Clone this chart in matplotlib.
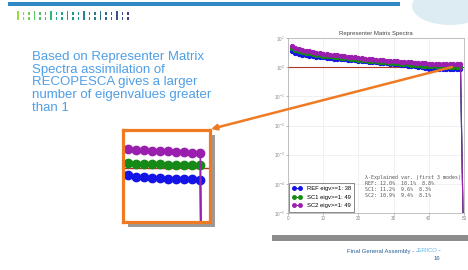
#!/usr/bin/env python3
"""Slide with representer matrix spectra (eigenvalues per experiment)."""

import matplotlib
matplotlib.use("Agg")
import matplotlib.pyplot as plt
from matplotlib.patches import Rectangle, Ellipse
import numpy as np

# eigenvalue index
modes = list(range(1, 51))

ref_eig = [3.6, 3.1, 2.85, 2.68, 2.55, 2.45, 2.36, 2.28, 2.21, 2.15,
           2.09, 2.03, 1.98, 1.93, 1.88, 1.84, 1.79, 1.75, 1.71, 1.67,
           1.63, 1.59, 1.55, 1.51, 1.47, 1.43, 1.39, 1.36, 1.33, 1.29,
           1.26, 1.22, 1.18, 1.14, 1.1, 1.07, 1.03, 1.0, 0.95, 0.9,
           0.88, 0.87, 0.865, 0.86, 0.855, 0.85, 0.85, 0.845, 0.84, 1e-7]
sc1_eig = [4.6, 3.9, 3.55, 3.3, 3.1, 2.95, 2.82, 2.7, 2.6, 2.5,
           2.41, 2.33, 2.25, 2.18, 2.11, 2.05, 1.99, 1.93, 1.88, 1.83,
           1.78, 1.73, 1.68, 1.64, 1.6, 1.56, 1.52, 1.48, 1.44, 1.41,
           1.37, 1.33, 1.3, 1.26, 1.23, 1.2, 1.16, 1.13, 1.1, 1.08,
           1.07, 1.065, 1.06, 1.055, 1.05, 1.05, 1.045, 1.04, 1.04, 1e-7]
sc2_eig = [5.4, 4.6, 4.2, 3.9, 3.65, 3.45, 3.3, 3.15, 3.02, 2.9,
           2.8, 2.7, 2.61, 2.52, 2.44, 2.36, 2.29, 2.22, 2.15, 2.09,
           2.03, 1.97, 1.92, 1.87, 1.82, 1.77, 1.73, 1.68, 1.64, 1.6,
           1.57, 1.54, 1.51, 1.48, 1.45, 1.42, 1.39, 1.37, 1.35, 1.33,
           1.31, 1.3, 1.29, 1.28, 1.28, 1.27, 1.27, 1.26, 1.26, 1e-7]

series_names = ["REF", "SC1", "SC2"]
series_colors = ["#1414e6", "#168a16", "#9a1fae"]

stats_lines = [
    "λ-Explained var. (first 3 modes)",
    "REF: 12.0%  10.1%  8.8%",
    "SC1: 11.2%  9.6%  8.3%",
    "SC2: 10.9%  9.4%  8.1%",
]

slide_text = ("Based on Representer Matrix\nSpectra assimilation of\n"
              "RECOPESCA gives a larger\nnumber of eigenvalues greater\nthan 1")

W, H = 468, 270
plt.rcParams["font.family"] = ["Liberation Sans", "DejaVu Sans"]
fig = plt.figure(figsize=(W / 100, H / 100), dpi=100)
fig.patch.set_facecolor("white")


def rect(x0, y0, x1, y1):
    return [x0 / W, 1 - y1 / H, (x1 - x0) / W, (y1 - y0) / H]


# background layer in pixel coordinates
bg = fig.add_axes([0, 0, 1, 1], zorder=0)
bg.set_xlim(0, W)
bg.set_ylim(H, 0)
bg.axis("off")
bg.add_patch(Ellipse((450, 6), 76, 38, color="#dcecf2", lw=0))
bg.add_patch(Rectangle((8, 2), 392, 4, color="#2f87c4", lw=0))
tick_cols = plt.cm.viridis_r(np.linspace(0.15, 0.8, 21))
for i, c in enumerate(tick_cols):
    xx = 17 + i * 5.5
    if i % 3 == 0:
        bg.add_patch(Rectangle((xx, 11), 1.7, 9, color=c, lw=0))
    else:
        bg.add_patch(Rectangle((xx, 12), 1.7, 3, color=c, lw=0))
        bg.add_patch(Rectangle((xx, 17), 1.7, 3, color=c, lw=0))
bg.add_patch(Rectangle((128, 135), 87, 92, color="#9a9a9a", lw=0))
bg.add_patch(Rectangle((272, 235), 196, 6, color="#8c8c8c", lw=0))
bg.text(32, 51, slide_text, fontsize=9.5, color="#4f9fe6", va="top",
        ha="left", linespacing=1.08)

# footer
fig.canvas.draw()
r = fig.canvas.get_renderer()
t3 = bg.text(441, 251, " -", fontsize=4.3, color="#2a5f95", ha="right", va="center")
x_end = bg.transData.inverted().transform(t3.get_window_extent(r))[0][0]
t2 = bg.text(x_end, 251, "JERICO", fontsize=4.3, color="#5fb4e6", ha="right", va="center")
x_end = bg.transData.inverted().transform(t2.get_window_extent(r))[0][0]
bg.text(x_end, 251, "Final General Assembly - ", fontsize=4.3, color="#2a5f95",
        ha="right", va="center")
bg.text(440, 259, "16", fontsize=4.3, color="#2a5f95", ha="right", va="center")

# main chart
ax = fig.add_axes(rect(288, 38, 464, 213), zorder=1)
ax.set_yscale("log")
ax.axhline(1, color="#b0352b", lw=0.8)
all_series = [ref_eig, sc1_eig, sc2_eig]
for name, vals, col in zip(series_names, all_series, series_colors):
    n_big = sum(v >= 1 for v in vals)
    ax.plot(modes, vals, "-o", color=col, ms=2.8, lw=0.8, mec=col,
            label=f"{name} eigv>=1: {n_big}")
ax.set_xlim(0, 50)
ax.set_ylim(1e-5, 1e1)
ax.set_xticks(range(0, 51, 10))
ax.set_yticks([10.0 ** k for k in range(1, -6, -1)])
ax.minorticks_off()
ax.tick_params(labelsize=3.3, colors="#888888", length=1.5, width=0.4, pad=1)
ax.grid(True, color="#e6e6e6", lw=0.4)
for s in ax.spines.values():
    s.set_color("#aaaaaa")
    s.set_linewidth(0.5)
ax.set_title("Representer Matrix Spectra", fontsize=4.3, color="#444444", pad=2)
leg = ax.legend(loc="lower left", fontsize=4.2, numpoints=2, markerscale=0.9,
                handlelength=1.6, borderpad=0.6, labelspacing=0.6,
                fancybox=False, edgecolor="#333333", borderaxespad=0.2)
leg.get_frame().set_linewidth(0.5)
ax.text(0.44, 0.22, "\n".join(stats_lines), transform=ax.transAxes,
        fontsize=3.6, color="#555555", va="top", ha="left", family="DejaVu Sans Mono",
        linespacing=1.3)

# zoomed inset
ins = fig.add_axes(rect(123, 130, 210, 222), zorder=2)
ins.set_yscale("log")
ins.axhline(1, color="#b0352b", lw=1.0)
for vals, col in zip(all_series, series_colors):
    ins.plot(modes, vals, "-o", color=col, ms=6, lw=1.2, mec=col)
ins.set_xlim(39.4, 50.2)
ins.set_ylim(0.449, 1.76)
ins.set_xticks([])
ins.set_yticks([])
ins.minorticks_off()
for s in ins.spines.values():
    s.set_color("#f07a22")
    s.set_linewidth(2.3)

# arrow overlay
ov = fig.add_axes([0, 0, 1, 1], zorder=3)
ov.set_xlim(0, W)
ov.set_ylim(H, 0)
ov.axis("off")
ov.patch.set_alpha(0)
ov.annotate("", xy=(211, 129), xytext=(452, 67),
            arrowprops=dict(arrowstyle="-|>", color="#f07a22", lw=1.8,
                            mutation_scale=8, shrinkA=0, shrinkB=0))

fig.savefig("out.png", dpi=100)
plt.close(fig)
